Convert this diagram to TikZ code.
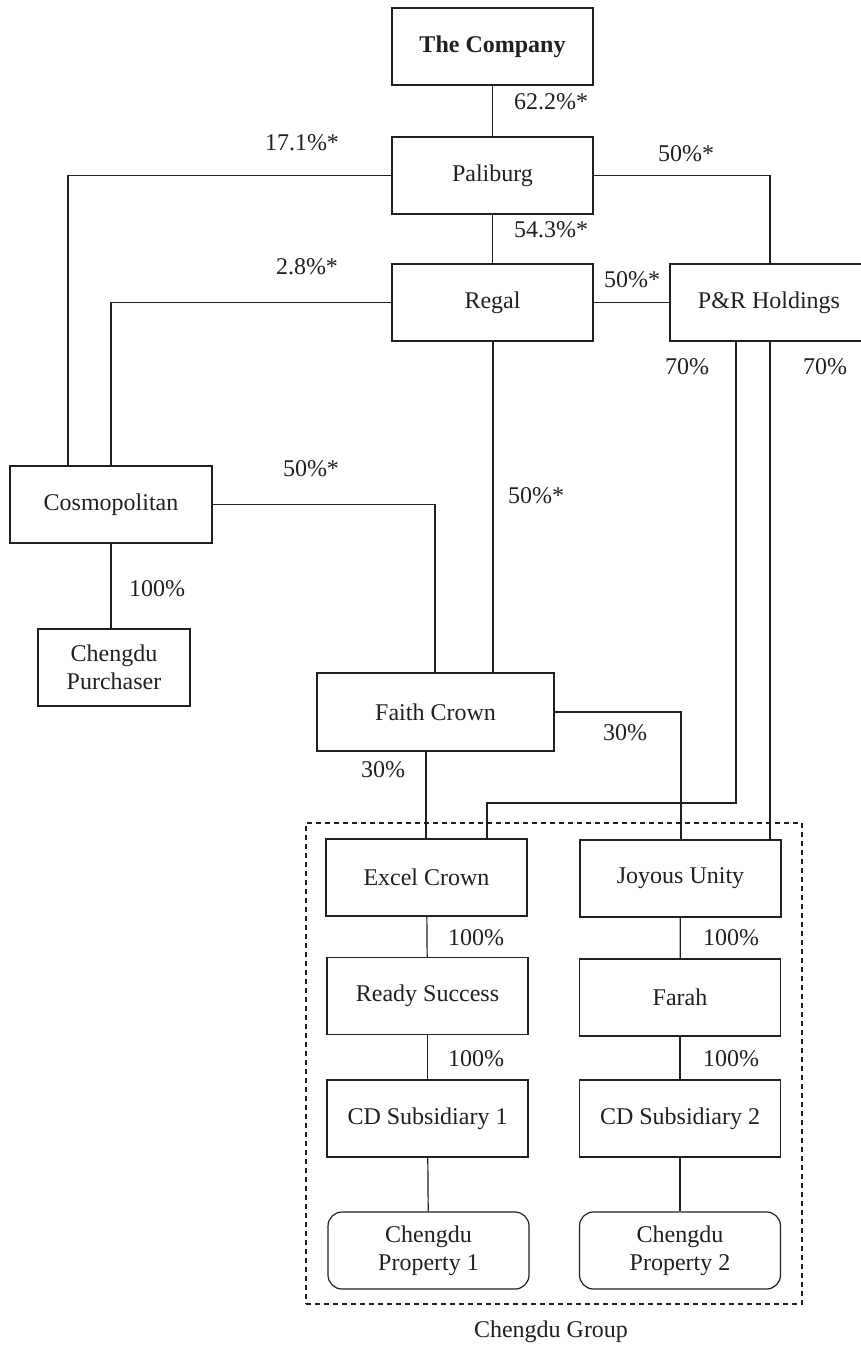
\documentclass[tikz,border=0pt]{standalone}
\usepackage{fontspec}
\setmainfont{Liberation Serif}
\usetikzlibrary{calc}
\definecolor{ink}{RGB}{35,31,32}
\begin{document}
\begin{tikzpicture}[x=1pt,y=-1pt,
  every node/.style={font=\fontsize{24}{28}\selectfont, text=ink},
  box/.style={draw=ink, line width=1.2pt, rectangle, inner sep=0pt, align=center,
    minimum width=201pt, minimum height=77pt},
  rbox/.style={box, rounded corners=14pt},
  lbl/.style={inner sep=0pt},
  conn/.style={draw=ink, line width=1.2pt},
  grp/.style={draw=ink, line width=1.1pt, dash pattern=on 5pt off 4pt}]
\clip (0,0) rectangle (861,1346);
\fill[white] (0,0) rectangle (861,1346);

% nodes
\node[box] (comp) at (492.5,46.5) {\textbf{The Company}};
\node[box] (pali) at (492.5,175.5) {Paliburg};
\node[box] (regal) at (492.5,302.5) {Regal};
\node[box, minimum width=198pt] (pr) at (769,302.5) {P\&R Holdings};
\node[box, minimum width=202pt] (cosmo) at (111,504.5) {Cosmopolitan};
\node[box, minimum width=152pt] (purch) at (114,667.5) {Chengdu\\Purchaser};
\node[box, minimum width=237pt, minimum height=78pt] (faith) at (435.5,712) {Faith Crown};
\node[box] (excel) at (426.5,877.5) {Excel Crown};
\node[box] (joy) at (680.5,878.5) {Joyous Unity};
\node[box] (ready) at (427.5,996) {Ready Success};
\node[box] (farah) at (680,997.5) {Farah};
\node[box] (cd1) at (427.5,1118.5) {CD Subsidiary 1};
\node[box] (cd2) at (680,1118.5) {CD Subsidiary 2};
\node[rbox] (prop1) at (428.5,1250.5) {Chengdu\\Property 1};
\node[rbox] (prop2) at (680,1250.5) {Chengdu\\Property 2};

% group frame
\node[grp, rectangle, inner sep=0pt, minimum width=496pt, minimum height=481pt] (group) at (554,1063.5) {};
\node[lbl] (grouplbl) at (551,1332) {Chengdu Group};

% bend coordinates
\coordinate (xa) at (68,0);
\coordinate (xb) at (111,0);
\coordinate (xc) at (770,0);
\coordinate (xd) at (435,0);
\coordinate (xe) at (736,0);
\coordinate (xf) at (487,0);
\coordinate (xg) at (681,0);
\coordinate (yh) at (0,803);
\coordinate (xi) at (493,0);
\coordinate (xj) at (426,0);

% connectors
\draw[conn] (comp) -- (pali);
\draw[conn] (pali) -- (regal);
\draw[conn] (pali.west) -| (xa |- cosmo.north);
\draw[conn] (pali.east) -| (xc |- pr.north);
\draw[conn] (regal.west) -| (xb |- cosmo.north);
\draw[conn] (regal.east) -- (pr.west);
\draw[conn] (xi |- regal.south) -- (xi |- faith.north);
\draw[conn] (cosmo.east) -| (xd |- faith.north);
\draw[conn] (xb |- cosmo.south) -- (xb |- purch.north);
\draw[conn] (xe |- pr.south) -- (xe |- yh) -| (xf |- excel.north);
\draw[conn] (xc |- pr.south) -- (xc |- joy.north);
\draw[conn] (xj |- faith.south) -- (xj |- excel.north);
\draw[conn] (faith.east) -| (xg |- joy.north);
\draw[conn] (excel) -- (ready);
\draw[conn] (ready) -- (cd1);
\draw[conn] (cd1) -- (prop1);
\draw[conn] (joy) -- (farah);
\draw[conn] (farah) -- (cd2);
\draw[conn] (cd2) -- (prop2);

% labels
\node[lbl] (l1) at (551,102) {62.2\%*};
\node[lbl] (l2) at (302,143) {17.1\%*};
\node[lbl] (l3) at (686,154) {50\%*};
\node[lbl] (l4) at (551,230) {54.3\%*};
\node[lbl] (l5) at (307,267) {2.8\%*};
\node[lbl] (l6) at (632,280) {50\%*};
\node[lbl] (l7) at (687,367) {70\%};
\node[lbl] (l8) at (825,367) {70\%};
\node[lbl] (l9) at (311,469) {50\%*};
\node[lbl] (l10) at (536,496) {50\%*};
\node[lbl] (l11) at (157,589) {100\%};
\node[lbl] (l12) at (625,733) {30\%};
\node[lbl] (l13) at (383,770) {30\%};
\node[lbl] (l14) at (476,938) {100\%};
\node[lbl] (l15) at (731,938) {100\%};
\node[lbl] (l16) at (476,1059) {100\%};
\node[lbl] (l17) at (731,1059) {100\%};
\end{tikzpicture}
\end{document}
